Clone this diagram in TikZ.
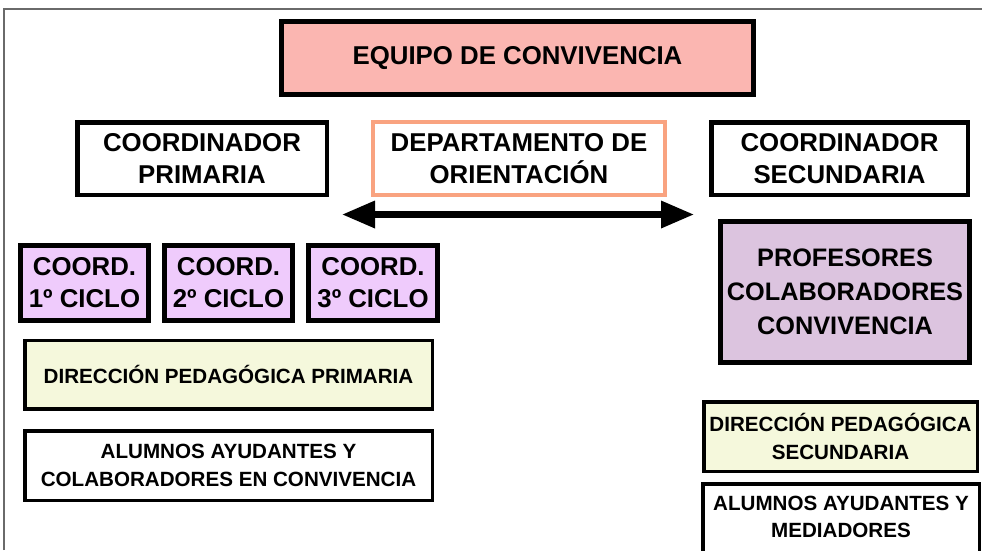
\documentclass[tikz,border=0pt]{standalone}
\usepackage{fontspec}
\setmainfont{Liberation Sans}
\usetikzlibrary{arrows.meta}
\definecolor{eqfill}{HTML}{FBB6B1}
\definecolor{lavfill}{HTML}{EFCBFC}
\definecolor{proffill}{HTML}{DCC4DF}
\definecolor{yelfill}{HTML}{F5F8DC}
\definecolor{orangeb}{HTML}{F9A380}
\definecolor{framegray}{HTML}{6A6A6A}
\tikzset{
  box/.style={draw=black, rectangle, align=center, inner sep=0pt, font=\bfseries\fontsize{25.8}{31.5}\selectfont},
  smallbox/.style={draw=black, rectangle, align=center, inner sep=0pt, font=\bfseries\fontsize{20.6}{27.5}\selectfont, line width=3.5pt},
  smalltext/.style={align=center, inner sep=0pt, font=\bfseries\fontsize{20.6}{27.5}\selectfont},
}
\begin{document}
\begin{tikzpicture}[x=1pt,y=-1pt]
\useasboundingbox (0,0) rectangle (982,550);
\draw[framegray, line width=1.5pt] (4,550) -- (4,9) -- (982,9);

\node[box, fill=eqfill, line width=5pt, minimum width=472pt, minimum height=73pt] (eq) at (517.5,58) {EQUIPO DE CONVIVENCIA};

\node[box, line width=4.5pt, minimum width=249.5pt, minimum height=72.5pt] (cp) at (202,158.5) {COORDINADOR\\PRIMARIA};
\node[box, draw=orangeb, line width=4pt, minimum width=292pt, minimum height=73pt] (dep) at (519,158.5) {DEPARTAMENTO DE\\ORIENTACIÓN};
\node[box, line width=4.5pt, minimum width=256.5pt, minimum height=72.5pt] (cs) at (839.5,158.5) {COORDINADOR\\SECUNDARIA};

\coordinate (aL) at (342,214.5);
\coordinate (aR) at (694,214.5);
\draw[line width=6.5pt, {Triangle[length=33pt,width=26pt]}-{Triangle[length=33pt,width=26pt]}] (aL) -- (aR);

\node[box, fill=lavfill, line width=5pt, minimum width=128pt, minimum height=75pt] (c1) at (84.5,282.5) {COORD.\\1º CICLO};
\node[box, fill=lavfill, line width=5pt, minimum width=128pt, minimum height=75pt] (c2) at (228.5,282.5) {COORD.\\2º CICLO};
\node[box, fill=lavfill, line width=5pt, minimum width=129pt, minimum height=75pt] (c3) at (373,282.5) {COORD.\\3º CICLO};

\node[box, fill=proffill, line width=5pt, minimum width=249pt, minimum height=141pt, font=\bfseries\fontsize{25.3}{34}\selectfont] (prof) at (845,291.5) {PROFESORES\\COLABORADORES\\CONVIVENCIA};

\node[smallbox, fill=yelfill, minimum width=407.5pt, minimum height=68.5pt] (dpp) at (228.5,374.5) {DIRECCIÓN PEDAGÓGICA PRIMARIA};
\node[smallbox, minimum width=407.5pt, minimum height=69.5pt] (alp) at (228.5,465.5) {ALUMNOS AYUDANTES Y\\COLABORADORES EN CONVIVENCIA};

\node[smallbox, fill=yelfill, minimum width=273.5pt, minimum height=69.5pt] (dps) at (840.5,436.5) {DIRECCIÓN PEDAGÓGICA\\SECUNDARIA};
\node[smallbox, minimum width=276.5pt, minimum height=96pt] (als) at (841,532) {};
\node[smalltext] (alstext) at (841,517) {ALUMNOS AYUDANTES Y\\MEDIADORES};
\end{tikzpicture}
\end{document}
